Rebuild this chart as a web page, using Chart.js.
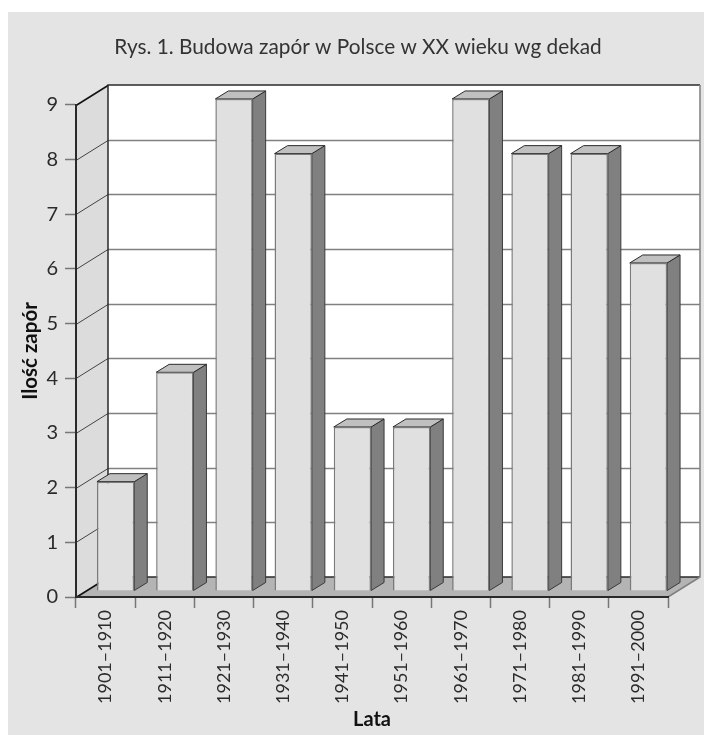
<!DOCTYPE html>
<html lang="pl">
<head>
<meta charset="utf-8">
<title>Budowa zapór</title>
<script src="https://cdn.jsdelivr.net/npm/chart.js@4"></script>
<style>
    html, body { margin: 0; padding: 0; background: #fff; }
    #wrap { width: 704px; height: 735px; }
</style>
</head>
<body>
<div id="wrap"><canvas id="chart" width="704" height="735"></canvas></div>
<script>
// ==========================
// DATA
// ==========================
const decades = ["1901–1910", "1911–1920", "1921–1930", "1931–1940", "1941–1950",
                 "1951–1960", "1961–1970", "1971–1980", "1981–1990", "1991–2000"];
const damCounts = [2, 4, 9, 8, 3, 3, 9, 8, 8, 6];
const yTicks = [0, 1, 2, 3, 4, 5, 6, 7, 8, 9];

const chartTitle = "Rys. 1. Budowa zapór w Polsce w XX wieku wg dekad";
const xTitle = "Lata";
const yTitle = "Ilość zapór";

// ==========================
// 3D LOOK
// ==========================
const FONT = "Lato";
const TEXT = "#2b2b2b";
const DARK = "#2a2a2a";
const WALL_DX = 32, WALL_DY = -20;     // depth of the whole box
const BAR_DX = 10, BAR_DY = -6;        // where the bar front sits on the floor
const BAR_DEPTH_X = 13, BAR_DEPTH_Y = -8;

function poly(ctx, pts, fill, stroke, width){
    ctx.beginPath();
    pts.forEach((p, i) => i ? ctx.lineTo(p[0], p[1]) : ctx.moveTo(p[0], p[1]));
    ctx.closePath();
    if(fill){ ctx.fillStyle = fill; ctx.fill(); }
    if(stroke){ ctx.strokeStyle = stroke; ctx.lineWidth = width || 1; ctx.stroke(); }
}

const box3d = {
    id: "box3d",
    beforeDraw(chart){
        const ctx = chart.ctx;
        const a = chart.chartArea;
        const y = chart.scales.y;
        ctx.save();

        // grey panel
        ctx.fillStyle = "#e4e4e4";
        ctx.fillRect(8, 12, 696, 723);

        // back wall
        ctx.fillStyle = "#ffffff";
        ctx.fillRect(a.left + WALL_DX, a.top + WALL_DY, a.right - a.left, a.bottom - a.top);

        // left wall
        poly(ctx, [[a.left, a.top], [a.left + WALL_DX, a.top + WALL_DY],
                   [a.left + WALL_DX, a.bottom + WALL_DY], [a.left, a.bottom]], "#dcdcdc");

        // floor
        poly(ctx, [[a.left, a.bottom], [a.right, a.bottom],
                   [a.right + WALL_DX, a.bottom + WALL_DY], [a.left + WALL_DX, a.bottom + WALL_DY]], "#b4b4b4");

        // grid lines, back wall and left wall
        yTicks.forEach(v => {
            const py = Math.round(y.getPixelForValue(v)) + 0.5;
            if(v > 0 && v < 9){
                ctx.strokeStyle = "#808080";
                ctx.lineWidth = 1.5;
                ctx.beginPath();
                ctx.moveTo(a.left + WALL_DX, py + WALL_DY);
                ctx.lineTo(a.right + WALL_DX, py + WALL_DY);
                ctx.stroke();
            }
            ctx.strokeStyle = v === 9 || v === 0 ? "#111" : "#444";
            ctx.lineWidth = v === 9 || v === 0 ? 1.5 : 1;
            ctx.beginPath();
            ctx.moveTo(a.left, py);
            ctx.lineTo(a.left + WALL_DX, py + WALL_DY);
            ctx.stroke();
        });

        // box outline
        ctx.strokeStyle = DARK;
        ctx.lineWidth = 1.5;
        ctx.beginPath();
        ctx.moveTo(a.left + WALL_DX, a.bottom + WALL_DY);
        ctx.lineTo(a.left + WALL_DX, a.top + WALL_DY);
        ctx.lineTo(a.right + WALL_DX, a.top + WALL_DY);
        ctx.stroke();
        ctx.beginPath();
        ctx.moveTo(a.left + WALL_DX, a.bottom + WALL_DY);
        ctx.lineTo(a.right + WALL_DX, a.bottom + WALL_DY);
        ctx.stroke();
        ctx.strokeStyle = "#808080";
        ctx.beginPath();
        ctx.moveTo(a.right + WALL_DX, a.top + WALL_DY);
        ctx.lineTo(a.right + WALL_DX, a.bottom + WALL_DY);
        ctx.lineTo(a.right, a.bottom);
        ctx.stroke();

        ctx.restore();
    },
    // bar side and top faces come from the bar elements themselves
    beforeDatasetDraw(chart, args){
        const ctx = chart.ctx;
        ctx.save();
        ctx.translate(BAR_DX, BAR_DY);
        args.meta.data.forEach(bar => {
            const p = bar.getProps(["x", "y", "base", "width"]);
            const r = p.x + p.width / 2;
            const l = p.x - p.width / 2;
            poly(ctx, [[r, p.y], [r + BAR_DEPTH_X, p.y + BAR_DEPTH_Y],
                       [r + BAR_DEPTH_X, p.base + BAR_DEPTH_Y], [r, p.base]], "#808080", "#3a3a3a");
            poly(ctx, [[l, p.y], [l + BAR_DEPTH_X, p.y + BAR_DEPTH_Y],
                       [r + BAR_DEPTH_X, p.y + BAR_DEPTH_Y], [r, p.y]], "#c0c0c0", "#2a2a2a");
        });
    },
    afterDatasetDraw(chart){
        chart.ctx.restore();
    }
};

// ==========================
// CHART
// ==========================
new Chart(document.getElementById("chart"), {
    type: "bar",
    plugins: [box3d],
    data: {
        labels: decades,
        datasets: [{
            data: damCounts,
            backgroundColor: "#e0e0e0",
            borderColor: "#7a7a7a",
            borderWidth: 1.5,
            barPercentage: 1,
            categoryPercentage: 0.63,
            clip: false
        }]
    },
    options: {
        responsive: false,
        animation: false,
        layout: { padding: { left: 12, right: 0, top: 0, bottom: 0 } },
        plugins: {
            legend: { display: false },
            tooltip: { enabled: false },
            title: {
                display: true,
                text: chartTitle,
                color: "#333",
                font: { family: FONT, size: 20.8, weight: "normal" },
                padding: { top: 35, bottom: 45 }
            }
        },
        scales: {
            x: {
                afterFit(s){ s.height = 138; },
                grid: { drawOnChartArea: false, tickLength: 11, tickColor: "#777", tickWidth: 1.5 },
                border: { color: DARK, width: 2 },
                ticks: {
                    color: TEXT,
                    font: { family: FONT, size: 18 },
                    padding: 2,
                    minRotation: 90,
                    maxRotation: 90,
                    autoSkip: false
                },
                title: {
                    display: true,
                    text: xTitle,
                    color: "#111",
                    font: { family: FONT, size: 20, weight: "bold" },
                    padding: { top: 0, bottom: 3 }
                }
            },
            y: {
                min: 0,
                max: 9,
                afterFit(s){ s.width = 64; },
                afterBuildTicks(s){ s.ticks = yTicks.map(v => ({ value: v })); },
                grid: { drawOnChartArea: false, tickLength: 11, tickColor: "#777", tickWidth: 1.5 },
                border: { color: DARK, width: 2 },
                ticks: {
                    color: TEXT,
                    font: { family: FONT, size: 20 },
                    padding: 7
                },
                title: {
                    display: true,
                    text: yTitle,
                    color: "#111",
                    font: { family: FONT, size: 20.5, weight: "bold" },
                    padding: { top: 6, bottom: 0 }
                }
            },
            // empty axis, only keeps the right margin so the title stays centred on the panel
            spacer: {
                position: "right",
                afterFit(s){ s.width = 36; },
                grid: { display: false },
                border: { display: false },
                ticks: { display: false }
            }
        }
    }
});
</script>
</body>
</html>
